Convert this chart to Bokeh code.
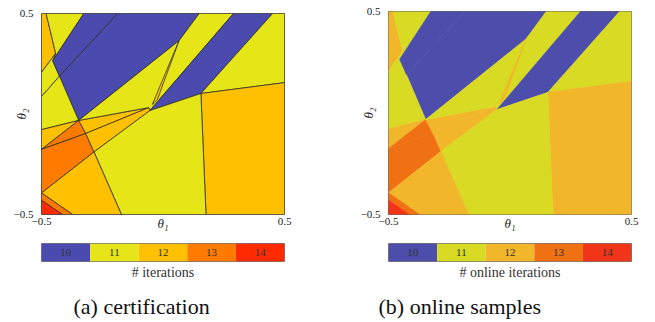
from bokeh.plotting import figure
from bokeh.layouts import row, column
from bokeh.models import Range1d, FixedTicker, Title, ColumnDataSource, CustomJSTickFormatter
from bokeh.core.properties import value
from bokeh.embed import file_html
from bokeh.resources import INLINE

# iteration counts shown in the colour bars
levels = [10, 11, 12, 13, 14]
level_labels = ["10", "11", "12", "13", "14"]
colors_cert = ["#4B4BAF", "#E5E517", "#FFC000", "#FF7B00", "#FF2A00"]
colors_online = ["#4D4DAB", "#D8DA24", "#F2B62A", "#F07014", "#F23418"]

# polygonal regions of the parameter space (theta1, theta2) and their iteration counts
region_iters = [12, 11, 11, 10, 10, 11, 12, 13, 13, 12, 12, 11, 10, 11, 12, 11, 12, 13, 14, 12]
region_x = [
    [-0.5, -0.481, -0.442, -0.5],
    [-0.481, -0.326, -0.454, -0.442],
    [-0.5, -0.442, -0.454, -0.426, -0.5],
    [-0.326, -0.186, -0.426, -0.454],
    [-0.186, 0.149, 0.066, -0.347, -0.426],
    [-0.5, -0.426, -0.347, -0.5],
    [-0.5, -0.347, -0.5],
    [-0.5, -0.347, -0.318],
    [-0.5, -0.318, -0.284, -0.5],
    [-0.347, -0.058, -0.318],
    [-0.318, -0.058, -0.054, -0.284],
    [-0.347, 0.066, 0.149, 0.290, -0.054, -0.058],
    [-0.054, 0.290, 0.451, 0.156],
    [0.451, 0.5, 0.5, 0.156],
    [0.156, 0.5, 0.5, 0.177],
    [-0.284, -0.054, 0.156, 0.177, -0.171],
    [-0.5, -0.284, -0.171, -0.372],
    [-0.5, -0.372, -0.414, -0.5],
    [-0.5, -0.414, -0.5],
    [0.066, -0.044, -0.023],
]
region_y = [
    [0.5, 0.5, 0.302, 0.207],
    [0.5, 0.5, 0.265, 0.302],
    [0.207, 0.302, 0.265, 0.188, 0.087],
    [0.5, 0.5, 0.188, 0.265],
    [0.5, 0.5, 0.365, -0.032, 0.188],
    [0.087, 0.188, -0.032, -0.078],
    [-0.078, -0.032, -0.176],
    [-0.176, -0.032, -0.097],
    [-0.176, -0.097, -0.189, -0.393],
    [-0.032, 0.032, -0.097],
    [-0.097, 0.032, 0.017, -0.189],
    [-0.032, 0.365, 0.5, 0.5, 0.017, 0.032],
    [0.017, 0.5, 0.5, 0.102],
    [0.5, 0.5, 0.156, 0.102],
    [0.102, 0.156, -0.5, -0.5],
    [-0.189, 0.017, 0.102, -0.5, -0.5],
    [-0.393, -0.189, -0.5, -0.5],
    [-0.393, -0.5, -0.5, -0.429],
    [-0.429, -0.5, -0.5],
    [0.365, 0.047, 0.072],
]

axis_ticks = [-0.5, 0.5]
SERIF = "Liberation Serif"


def panel(fill_colors, outlined, width, bl, br, bt, fh):
    p = figure(width=width, height=236, x_range=Range1d(-0.5, 0.5), y_range=Range1d(-0.5, 0.5),
               output_backend="svg", toolbar_location=None,
               min_border_left=bl, min_border_right=br, min_border_top=bt,
               min_border_bottom=236 - bt - fh)
    src = ColumnDataSource(dict(xs=region_x, ys=region_y,
                                c=[fill_colors[levels.index(v)] for v in region_iters]))
    if outlined:
        p.patches("xs", "ys", source=src, fill_color="c", line_color="#2a2a2a",
                  line_width=0.9, line_alpha=0.85)
    else:
        p.patches("xs", "ys", source=src, fill_color="c", line_color="c", line_width=0.6)
    p.grid.visible = False
    fmt = CustomJSTickFormatter(code="return tick < 0 ? '\u2212' + Math.abs(tick).toFixed(1) : tick.toFixed(1);")
    for ax in (p.xaxis[0], p.yaxis[0]):
        ax.ticker = FixedTicker(ticks=axis_ticks)
        ax.formatter = fmt
        ax.axis_line_color = None
        ax.major_tick_line_color = None
        ax.minor_tick_line_color = None
        ax.major_tick_out = 0
        ax.major_tick_in = 0
        ax.minor_tick_out = 0
        ax.minor_tick_in = 0
        ax.major_label_text_font = SERIF
        ax.major_label_text_font_size = "11px"
        ax.major_label_text_color = "#222222"
        ax.axis_label_text_font = SERIF
        ax.axis_label_text_font_style = "italic"
        ax.axis_label_text_font_size = "13px"
        ax.axis_label_text_color = "#222222"
    p.xaxis.axis_label = "θ₁"
    p.yaxis.axis_label = "θ₂"
    p.xaxis.major_label_standoff = 3
    p.yaxis.major_label_standoff = 8
    p.xaxis.axis_label_standoff = -12
    p.yaxis.axis_label_standoff = -18
    p.outline_line_color = "#666666"
    p.outline_line_width = 1
    return p


def colorbar(fill_colors, label, width, bl, br):
    p = figure(width=width, height=50, x_range=Range1d(9.5, 14.5), y_range=Range1d(0, 1),
               x_axis_type=None, y_axis_type=None, output_backend="svg", toolbar_location=None,
               min_border_left=bl, min_border_right=br, min_border_top=7, min_border_bottom=25)
    p.rect(x=levels, y=0.5, width=1, height=1, fill_color=fill_colors, line_color=None)
    p.text(x=levels, y=0.5, text=level_labels, text_align="center", text_baseline="middle",
           text_font=value(SERIF), text_font_size="11px", text_color="#333333")
    p.grid.visible = False
    p.outline_line_color = "#777777"
    t1 = Title(text=label, align="center", text_font=SERIF, text_font_size="14px",
               text_font_style="normal", text_color="#333333", standoff=2)
    p.add_layout(t1, "below")
    return p


def caption_fig(caption, width, bl, br, cap_offset):
    p = figure(width=width, height=36, x_range=Range1d(0, 1), y_range=Range1d(0, 1),
               x_axis_type=None, y_axis_type=None, output_backend="svg", toolbar_location=None,
               min_border_left=bl, min_border_right=br, min_border_top=33, min_border_bottom=0)
    p.outline_line_color = None
    p.grid.visible = False
    p.title = Title(text=caption, align="left", offset=cap_offset, text_font=SERIF,
                    text_font_size="22px", text_font_style="normal", text_color="#111111",
                    standoff=2)
    return p


left_panel = panel(colors_cert, True, 338, 41, 54, 13, 201)
right_panel = panel(colors_online, False, 312, 49, 17, 11, 203)
left_bar = colorbar(colors_cert, "# iterations", 338, 41, 54)
right_bar = colorbar(colors_online, "# online iterations", 312, 50, 19)
left_cap = caption_fig("(a) certification", 338, 41, 54, 32)
right_cap = caption_fig("(b) online samples", 312, 50, 19, -10)

layout = row(column(left_panel, left_bar, left_cap), column(right_panel, right_bar, right_cap))

open("out.html", "w").write(file_html(layout, INLINE))
